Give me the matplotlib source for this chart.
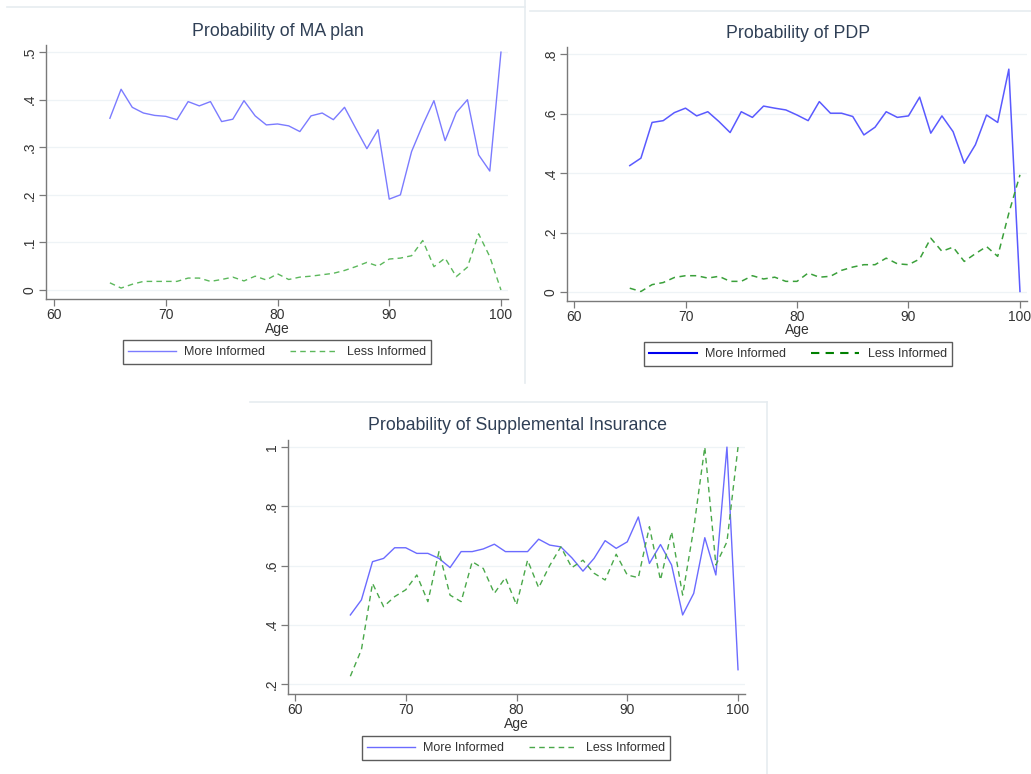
import matplotlib
matplotlib.use("Agg")
import matplotlib.pyplot as plt
from matplotlib.lines import Line2D

plt.rcParams['font.family'] = ['Liberation Sans', 'DejaVu Sans']

ages = list(range(65, 101))

ma_more = [0.361, 0.422, 0.384, 0.372, 0.367, 0.365, 0.358, 0.396, 0.387, 0.396,
           0.354, 0.359, 0.398, 0.366, 0.347, 0.349, 0.345, 0.333, 0.366, 0.372,
           0.358, 0.384, 0.340, 0.297, 0.337, 0.191, 0.200, 0.291, 0.347, 0.398,
           0.314, 0.373, 0.400, 0.284, 0.250, 0.500]
ma_less = [0.015, 0.004, 0.012, 0.018, 0.018, 0.018, 0.018, 0.025, 0.025, 0.018,
           0.022, 0.027, 0.019, 0.029, 0.021, 0.034, 0.022, 0.027, 0.029, 0.032,
           0.035, 0.041, 0.049, 0.058, 0.050, 0.065, 0.067, 0.072, 0.104, 0.049,
           0.067, 0.028, 0.048, 0.118, 0.070, 0.000]

pdp_more = [0.425, 0.450, 0.570, 0.576, 0.603, 0.618, 0.592, 0.606, 0.573, 0.536,
            0.606, 0.587, 0.625, 0.618, 0.612, 0.595, 0.576, 0.640, 0.601, 0.601,
            0.590, 0.528, 0.554, 0.606, 0.587, 0.592, 0.655, 0.534, 0.592, 0.539,
            0.433, 0.495, 0.595, 0.570, 0.749, 0.002]
pdp_less = [0.013, 0.002, 0.025, 0.032, 0.049, 0.055, 0.055, 0.047, 0.053, 0.036,
            0.036, 0.055, 0.044, 0.050, 0.036, 0.036, 0.064, 0.050, 0.053, 0.073,
            0.084, 0.092, 0.092, 0.114, 0.095, 0.092, 0.111, 0.181, 0.137, 0.151,
            0.103, 0.129, 0.153, 0.120, 0.265, 0.394]

sup_more = [0.433, 0.484, 0.613, 0.624, 0.660, 0.660, 0.641, 0.641, 0.624, 0.593,
            0.647, 0.647, 0.656, 0.672, 0.647, 0.647, 0.647, 0.689, 0.669, 0.663,
            0.626, 0.581, 0.624, 0.684, 0.658, 0.680, 0.764, 0.607, 0.671, 0.602,
            0.433, 0.506, 0.694, 0.568, 1.000, 0.248]
sup_less = [0.226, 0.316, 0.540, 0.461, 0.495, 0.518, 0.568, 0.478, 0.647, 0.500,
            0.478, 0.613, 0.590, 0.506, 0.559, 0.467, 0.618, 0.525, 0.600, 0.663,
            0.593, 0.618, 0.574, 0.551, 0.638, 0.568, 0.559, 0.731, 0.551, 0.714,
            0.500, 0.725, 1.000, 0.602, 0.680, 1.000]

xticks = [60, 70, 80, 90, 100]
ma_yticks = [0, 0.1, 0.2, 0.3, 0.4, 0.5]
ma_ylabels = ['0', '.1', '.2', '.3', '.4', '.5']
pdp_yticks = [0, 0.2, 0.4, 0.6, 0.8]
pdp_ylabels = ['0', '.2', '.4', '.6', '.8']
sup_yticks = [0.2, 0.4, 0.6, 0.8, 1.0]
sup_ylabels = ['.2', '.4', '.6', '.8', '1']

W, H = 1031, 774
fig = plt.figure(figsize=(W / 100, H / 100), dpi=100)

TXT = '#333333'
TITLE_C = '#2f3f55'
SPINE = '#7a7a7a'
FRAME = '#e6ecf0'


def add_ax(left, top, right, bottom):
    return fig.add_axes([left / W, 1 - bottom / H, (right - left) / W, (bottom - top) / H])


def style(ax, xlim, ylim, yticks, ylabels):
    ax.set_xlim(*xlim)
    ax.set_ylim(*ylim)
    ax.set_xticks(xticks)
    ax.set_xticklabels([str(t) for t in xticks])
    ax.set_yticks(yticks)
    ax.set_yticklabels(ylabels, rotation=90, va='center')
    for s in ['top', 'right']:
        ax.spines[s].set_visible(False)
    for s in ['left', 'bottom']:
        ax.spines[s].set_color(SPINE)
        ax.spines[s].set_linewidth(1.0)
    ax.tick_params(axis='both', colors=SPINE, labelcolor=TXT, labelsize=10,
                   length=5, width=0.9, direction='out', pad=1.5)
    ax.grid(axis='y', color='#eef3f6', linewidth=0.9)
    ax.set_axisbelow(True)
    ax.set_facecolor('white')


def draw_panel(ax, more, less, c_more, c_less, lw):
    l1, = ax.plot(ages, more, color=c_more, linewidth=lw, linestyle='-')
    l2, = ax.plot(ages, less, color=c_less, linewidth=lw, linestyle=(0, (4, 3)))
    return l1, l2


def legend(cx, cy, c_more, c_less, lw):
    h = [Line2D([], [], color=c_more, linewidth=lw),
         Line2D([], [], color=c_less, linewidth=lw, linestyle=(0, (4, 3)))]
    leg = fig.legend(h, ['More Informed', 'Less Informed'], loc='center',
                     bbox_to_anchor=(cx / W, 1 - cy / H), ncol=2, frameon=True,
                     fancybox=False, edgecolor='#333333', fontsize=9,
                     handlelength=3.8, columnspacing=2.0, handletextpad=0.7,
                     borderpad=0.45, labelcolor=TXT)
    leg.get_frame().set_linewidth(1.0)


# frame lines
fig.add_artist(Line2D([7 / W, 525 / W], [1 - 7 / H, 1 - 7 / H], color=FRAME, lw=1.2))
fig.add_artist(Line2D([525 / W, 525 / W], [1 - 0 / H, 1 - 383 / H], color=FRAME, lw=1.2))
fig.add_artist(Line2D([530 / W, 1031 / W], [1 - 11 / H, 1 - 11 / H], color=FRAME, lw=1.2))
fig.add_artist(Line2D([250 / W, 767 / W], [1 - 402 / H, 1 - 402 / H], color=FRAME, lw=1.2))
fig.add_artist(Line2D([767 / W, 767 / W], [1 - 402 / H, 0], color=FRAME, lw=1.2))

# Panel 1: MA
ax1 = add_ax(46, 45, 508, 299)
style(ax1, (59.28, 100.63), (-0.019, 0.515), ma_yticks, ma_ylabels)
draw_panel(ax1, ma_more, ma_less, '#7b7bff', '#5cb85c', 1.0)
fig.text(278 / W, 1 - 31 / H, 'Probability of MA plan', ha='center', va='center',
         fontsize=12.8, color=TITLE_C)
fig.text(277 / W, 1 - 329 / H, 'Age', ha='center', va='center', fontsize=10, color=TXT)
legend(277, 352, '#7b7bff', '#5cb85c', 1.0)

# Panel 2: PDP
ax2 = add_ax(567, 47, 1027, 301)
style(ax2, (59.37, 100.63), (-0.030, 0.8235), pdp_yticks, pdp_ylabels)
draw_panel(ax2, pdp_more, pdp_less, '#5a5aff', '#3aa03a', 1.1)
fig.text(798 / W, 1 - 34 / H, 'Probability of PDP', ha='center', va='center',
         fontsize=12.8, color=TITLE_C)
fig.text(797 / W, 1 - 330 / H, 'Age', ha='center', va='center', fontsize=10, color=TXT)
legend(798, 354, '#0000ee', '#008000', 1.5)

# Panel 3: Supplemental
ax3 = add_ax(288, 440, 745, 694)
style(ax3, (59.37, 100.63), (0.166, 1.024), sup_yticks, sup_ylabels)
draw_panel(ax3, sup_more, sup_less, '#6b6bff', '#4aa84a', 1.0)
fig.text(517 / W, 1 - 426 / H, 'Probability of Supplemental Insurance', ha='center',
         va='center', fontsize=12.8, color=TITLE_C)
fig.text(516 / W, 1 - 724 / H, 'Age', ha='center', va='center', fontsize=10, color=TXT)
legend(516, 748, '#6b6bff', '#4aa84a', 1.0)

fig.savefig('out.png', dpi=100, facecolor='white')
